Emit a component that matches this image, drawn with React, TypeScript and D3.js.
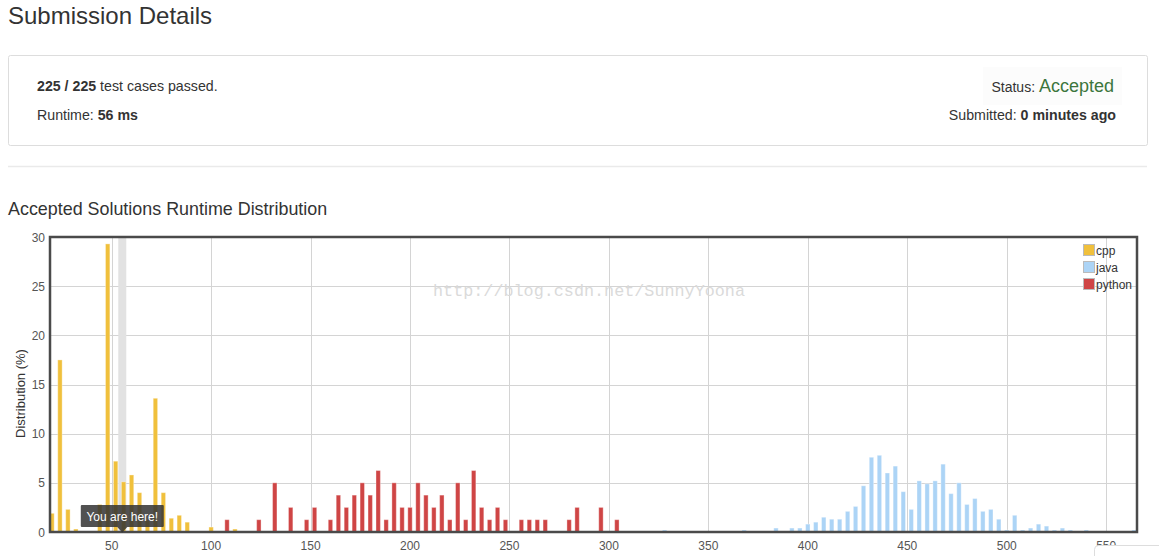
import React from 'react';
import * as d3 from 'd3';

const W = 1159;
const H = 556;
const FONT = '"Liberation Sans", Arial, Helvetica, sans-serif';

// Runtime bins (ms) and share of accepted submissions (%) per language
const cppRuntime = [20, 24, 28, 32, 44, 48, 52, 56, 60, 64, 68, 72, 76, 80, 84, 88, 100, 112];
const cppShare = [1.9, 17.5, 2.3, 0.3, 2.8, 29.3, 7.2, 5.1, 5.8, 4.0, 1.2, 13.6, 4.0, 1.4, 1.7, 1.0, 0.5, 0.3];

const javaRuntime = [
  328, 368, 384, 392, 396, 400, 404, 408, 412, 416, 420, 424, 428, 432, 436, 440, 444, 448, 452, 456, 460,
  464, 468, 472, 476, 480, 484, 488, 492, 496, 500, 504, 508, 512, 516, 520, 524, 528, 532, 540, 564,
];
const javaShare = [
  0.2, 0.2, 0.4, 0.4, 0.4, 0.8, 1.0, 1.5, 1.3, 1.3, 2.1, 2.6, 4.7, 7.6, 7.8, 6.0, 6.7, 4.1, 2.3, 5.2, 4.9,
  5.2, 6.9, 3.9, 5.0, 2.8, 3.4, 2.1, 2.3, 1.3, 0.2, 1.7, 0.2, 0.4, 0.8, 0.6, 0.2, 0.4, 0.2, 0.2, 0.2,
];

const pythonRuntime = [
  108, 124, 132, 140, 148, 152, 160, 164, 168, 172, 176, 180, 184, 188, 192, 196, 200, 204, 208, 212, 216,
  220, 224, 228, 232, 236, 240, 244, 248, 256, 260, 264, 268, 280, 284, 296, 304,
];
const pythonShare = [
  1.25, 1.25, 5, 2.5, 1.25, 2.5, 1.25, 3.75, 2.5, 3.75, 5, 3.75, 6.25, 1.25, 5, 2.5, 2.5, 5, 3.75, 2.5, 3.75,
  1.25, 5, 1.25, 6.25, 2.5, 1.25, 2.5, 1.25, 1.25, 1.25, 1.25, 1.25, 1.25, 2.5, 2.5, 1.25,
];

const xTicks = [50, 100, 150, 200, 250, 300, 350, 400, 450, 500, 550];
const yTicks = [0, 5, 10, 15, 20, 25, 30];

const runtimeMs = 56;
const testsPassed = 225;
const testsTotal = 225;

const series = [
  { name: 'cpp', color: '#f0c03c', runtime: cppRuntime, share: cppShare },
  { name: 'java', color: '#acd4f6', runtime: javaRuntime, share: javaShare },
  { name: 'python', color: '#cf4545', runtime: pythonRuntime, share: pythonShare },
];

const plot = { left: 50, right: 1137, top: 237, bottom: 532 };

export default function App() {
  const x = d3.scaleLinear().domain([19, 565.5]).range([plot.left, plot.right]);
  const y = d3.scaleLinear().domain([0, 30]).range([plot.bottom, plot.top]);
  const barW = 4.4;
  const markX = x(runtimeMs) - 1.3;

  return (
    <svg
      width={W}
      height={H}
      viewBox={`0 0 ${W} ${H}`}
      style={{ position: 'absolute', left: 0, top: 0, background: '#fff' }}
      fontFamily={FONT}
    >
      <defs>
        <clipPath id="plot-clip">
          <rect x={plot.left} y={plot.top} width={plot.right - plot.left} height={plot.bottom - plot.top} />
        </clipPath>
      </defs>

      {/* Header */}
      <text x={8} y={24} fontSize={24} fill="#333">Submission Details</text>

      <rect x={8.5} y={55.5} width={1139} height={90} rx={2} fill="none" stroke="#ddd" />
      <text x={37} y={91} fontSize={14.2} fill="#333">
        <tspan fontWeight="bold">{`${testsPassed} / ${testsTotal}`}</tspan> test cases passed.
      </text>
      <text x={37} y={119.5} fontSize={14.2} fill="#333">
        Runtime: <tspan fontWeight="bold">{`${runtimeMs} ms`}</tspan>
      </text>

      <rect x={983} y={67} width={139} height={38} fill="#fcfcfc" />
      <text x={1114} y={92} fontSize={14} fill="#333" textAnchor="end">
        Status: <tspan fontSize={18} fill="#3c763d">Accepted</tspan>
      </text>
      <text x={1116} y={119.5} fontSize={14.2} fill="#333" textAnchor="end">
        Submitted: <tspan fontWeight="bold">0 minutes ago</tspan>
      </text>

      <line x1={8} x2={1147} y1={166.5} y2={166.5} stroke="#eaeaea" strokeWidth={1.5} />

      <text x={8} y={215} fontSize={17.9} fill="#333">Accepted Solutions Runtime Distribution</text>

      {/* Grid */}
      <g stroke="#d4d4d4" strokeWidth={1}>
        {xTicks.map((t) => (
          <line key={`gx${t}`} x1={Math.round(x(t)) + 0.5} x2={Math.round(x(t)) + 0.5} y1={plot.top} y2={plot.bottom} />
        ))}
        {yTicks.map((t) => (
          <line key={`gy${t}`} x1={plot.left} x2={plot.right} y1={Math.round(y(t)) + 0.5} y2={Math.round(y(t)) + 0.5} />
        ))}
      </g>

      {/* Highlight band for this submission's runtime */}
      <rect x={markX - 4} y={plot.top} width={8} height={plot.bottom - plot.top} fill="#e2e2e2" />

      {/* Bars */}
      <g clipPath="url(#plot-clip)">
        {series.map((s) =>
          s.runtime.map((r, i) => (
            <rect
              key={`${s.name}${r}`}
              x={x(r) - barW / 2}
              y={y(s.share[i])}
              width={barW}
              height={y(0) - y(s.share[i])}
              fill={s.color}
              stroke="#fff"
              strokeOpacity={0.35}
              strokeWidth={1}
            />
          ))
        )}
      </g>

      <text
        x={433}
        y={296}
        fontSize={17}
        fontFamily='"Liberation Mono", "DejaVu Sans Mono", monospace'
        fill="#dadada"
        textLength={312}
        lengthAdjust="spacingAndGlyphs"
      >
        http://blog.csdn.net/SunnyYoona
      </text>

      {/* Plot frame */}
      <rect
        x={plot.left}
        y={plot.top}
        width={plot.right - plot.left}
        height={plot.bottom - plot.top}
        fill="none"
        stroke="#4a4a4a"
        strokeWidth={2.5}
      />

      {/* Axis labels */}
      <g fontSize={12} fill="#555">
        {yTicks.map((t) => (
          <text key={`ly${t}`} x={45} y={y(t) + 4.5} textAnchor="end">{t}</text>
        ))}
        {xTicks.map((t) => (
          <text key={`lx${t}`} x={x(t)} y={549.5} textAnchor="middle">{t}</text>
        ))}
      </g>
      <text transform="translate(25,393.5) rotate(-90)" fontSize={13} fill="#333" textAnchor="middle">
        Distribution (%)
      </text>

      {/* Legend */}
      <g>
        {series.map((s, i) => (
          <g key={`lg${s.name}`} transform={`translate(1083,${244 + i * 17})`}>
            <rect x={0.5} y={0.5} width={11} height={11} fill={s.color} stroke="#bbb" />
            <text x={13} y={10.5} fontSize={12} fill="#333">{s.name}</text>
          </g>
        ))}
      </g>

      {/* "You are here" marker */}
      <g>
        <rect x={markX - 41.5} y={505} width={83} height={22} rx={1} fill="#333" fillOpacity={0.85} />
        <path d={`M${markX - 5},527 L${markX + 5},527 L${markX},532.5 Z`} fill="#333" fillOpacity={0.85} />
        <text x={markX} y={520.5} fontSize={12} fill="#fff" textAnchor="middle">You are here!</text>
      </g>

      {/* Corner panel overlapping the axis */}
      <rect x={1094.5} y={545.5} width={120} height={40} rx={4} fill="#fff" stroke="#ddd" />
    </svg>
  );
}
